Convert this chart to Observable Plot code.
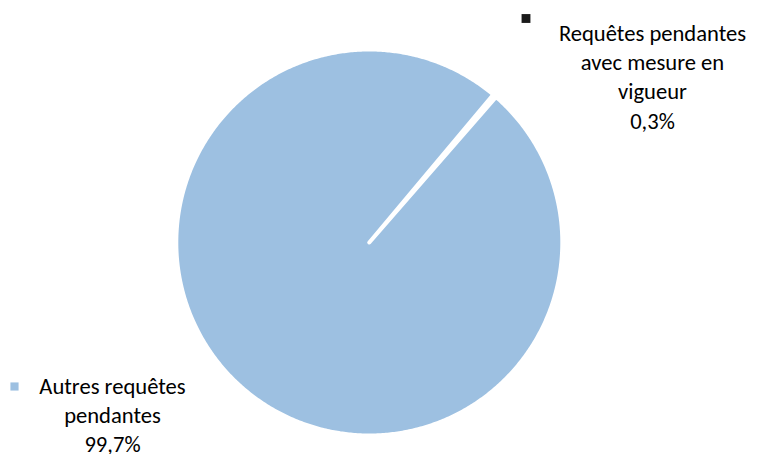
<!DOCTYPE html>
<html><head><meta charset="utf-8">
<script src="https://cdn.jsdelivr.net/npm/d3@7"></script>
<script src="https://cdn.jsdelivr.net/npm/@observablehq/plot@0.6"></script>
<style>body{margin:0;background:#fff;overflow:hidden}</style>
</head><body><div id="chart"></div>
<script>
const categories = ["Requêtes pendantes avec mesure en vigueur", "Autres requêtes pendantes"];
const values = [0.3, 99.7];
const valueLabels = ["0,3%", "99,7%"];
const labelLines = [["Requêtes pendantes", "avec mesure en", "vigueur"], ["Autres requêtes", "pendantes"]];
const colors = ["#1a1a1a", "#9dc0e1"];

const startDeg = 40;
const a0 = startDeg * Math.PI / 180;
const arcs = d3.pie().sort(null).startAngle(a0).endAngle(a0 + 2 * Math.PI)(values);
const pts = [];
arcs.forEach((a, i) => {
  const cat = categories[i];
  pts.push({cat, x: 0, y: 0});
  const n = Math.max(2, Math.ceil((a.endAngle - a.startAngle) / (Math.PI / 360)));
  for (let k = 0; k <= n; k++) {
    const t = a.startAngle + (a.endAngle - a.startAngle) * k / n;
    pts.push({cat, x: Math.sin(t), y: Math.cos(t)});
  }
  pts.push({cat, x: 0, y: 0});
});

const fs = 22.6;
const linePx = 29.5;
const lh = linePx / fs;
const firstBase = 0.71 * linePx;
const labelText = labelLines.map((l, i) => l.concat(valueLabels[i]).join("\n"));

const plot = Plot.plot({
  width: 757, height: 454, margin: 0,
  style: {fontFamily: "Carlito, Lato, sans-serif", background: "white"},
  x: {domain: [-1, 1], range: [175.8, 561.8], axis: null},
  y: {domain: [-1, 1], range: [435, 49], axis: null},
  color: {domain: categories, range: colors},
  marks: [
    Plot.line(pts, {x: "x", y: "y", z: "cat", fill: "cat", stroke: "white", strokeWidth: 4, strokeLinejoin: "round", curve: "linear"}),
    Plot.text([labelText[0]], {text: d => d, frameAnchor: "top-left", dx: 652, dy: 40 - firstBase, lineAnchor: "top", lineHeight: lh, textAnchor: "middle", fontSize: fs, fill: "black"}),
    Plot.text([labelText[1]], {text: d => d, frameAnchor: "top-left", dx: 112, dy: 393 - firstBase, lineAnchor: "top", lineHeight: lh, textAnchor: "middle", fontSize: fs, fill: "black"}),
    Plot.dot([categories[0]], {fill: d => d, symbol: "square", r: 5, frameAnchor: "top-left", dx: 525.5, dy: 18}),
    Plot.dot([categories[1]], {fill: d => d, symbol: "square", r: 4.6, frameAnchor: "top-left", dx: 14, dy: 386})
  ]
});
document.getElementById("chart").appendChild(plot);
</script>
</body></html>
